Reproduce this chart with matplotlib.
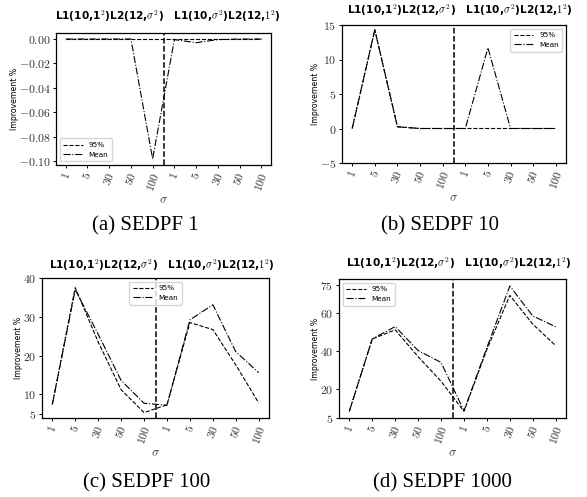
import matplotlib
matplotlib.use('Agg')
import matplotlib.pyplot as plt
from matplotlib.ticker import FixedLocator, FuncFormatter

plt.rcParams['mathtext.fontset'] = 'cm'
plt.rcParams['font.family'] = 'DejaVu Sans'

# sigma values for the two scenarios, side by side
sigma_labels = ['1', '5', '30', '50', '100', '1', '5', '30', '50', '100']

# improvement (%) of the 95% quantile and of the mean, per SEDPF setting
sedpf1_q95 = [0, 0, 0, 0, 0, 0, 0, 0, 0, 0]
sedpf1_mean = [0, 0, 0, 0, -0.098, -0.0005, -0.003, -0.0005, 0, 0]

sedpf10_q95 = [0, 14.3, 0.25, 0, 0, 0, 0, 0, 0, 0]
sedpf10_mean = [0, 14.3, 0.25, 0, 0, 0, 11.7, 0, 0, 0]

sedpf100_q95 = [7.4, 37.5, 23.5, 11.2, 5.3, 7.3, 28.5, 26.7, 17.6, 7.8]
sedpf100_mean = [7.4, 37.0, 25.5, 13.6, 7.7, 7.2, 29.2, 33.1, 21.0, 15.6]

sedpf1000_q95 = [8.5, 46.5, 51.3, 37.2, 24.3, 8.5, 41.0, 69.4, 54.3, 43.0]
sedpf1000_mean = [8.5, 46.5, 53.0, 40.4, 34.2, 8.8, 42.0, 74.3, 58.6, 52.9]

panel_titles = ['(a) SEDPF 1', '(b) SEDPF 10', '(c) SEDPF 100', '(d) SEDPF 1000']
header = (r'L1(10,1$^2$)L2(12,$\sigma^2$)   '
          r'L1(10,$\sigma^2$)L2(12,$1^2$)')

fig = plt.figure(figsize=(5.87, 4.97), dpi=100)
W, H = 587.0, 497.0


def px_axes(x0, y0, x1, y1):
    return fig.add_axes([x0 / W, 1 - y1 / H, (x1 - x0) / W, (y1 - y0) / H])


def draw_panel(ax, q95, mean, yticks, fmt, legend_loc, ylim=None):
    x = list(range(len(sigma_labels)))
    ax.plot(x, q95, 'k--', lw=0.8, label='95%')
    ax.plot(x, mean, 'k-.', lw=0.8, label='Mean')
    ax.axvline(4.5, color='k', ls='--', lw=1.1)
    if ylim is not None:
        ax.set_ylim(*ylim)
    ax.yaxis.set_major_locator(FixedLocator(yticks))
    ax.yaxis.set_major_formatter(FuncFormatter(lambda v, p: '$' + fmt.format(v) + '$'))
    ax.set_xticks(x)
    ax.set_xticklabels(['$' + s + '$' for s in sigma_labels], rotation=70)
    ax.tick_params(labelsize=8.5, labelcolor='0.2', length=2.5, width=0.7, pad=1.5)
    ax.set_xlabel(r'$\sigma$', fontsize=9, labelpad=0, color='0.25')
    ax.set_ylabel('Improvement %', fontsize=5.6, labelpad=0)
    for sp in ax.spines.values():
        sp.set_linewidth(0.9)
    ax.legend(loc=legend_loc, fontsize=5.2, handlelength=2.7, borderpad=0.5,
              labelspacing=0.5)


ax_a = px_axes(56, 33, 271, 165)
draw_panel(ax_a, sedpf1_q95, sedpf1_mean, [0, -0.02, -0.04, -0.06, -0.08, -0.10],
           '{:.2f}', 'lower left')

ax_b = px_axes(342, 25, 566, 163)
draw_panel(ax_b, sedpf10_q95, sedpf10_mean, [-5, 0, 5, 10, 15], '{:.0f}',
           'upper right', ylim=(-5, 15))

ax_c = px_axes(42, 278, 269, 418)
draw_panel(ax_c, sedpf100_q95, sedpf100_mean, [5, 10, 20, 30, 40], '{:.0f}',
           'upper center', ylim=(3.9, 40))

ax_d = px_axes(339, 279, 566, 418)
draw_panel(ax_d, sedpf1000_q95, sedpf1000_mean, [5, 20, 40, 60, 75], '{:.0f}',
           'upper left', ylim=(5, 78))

# headers above each panel and captions underneath
for xc, yc in [(168, 16), (460, 10), (162, 265), (459, 263)]:
    fig.text(xc / W, 1 - yc / H, header, ha='center', va='center',
             fontsize=7.6, fontweight='bold')

for label, (xc, yc) in zip(panel_titles, [(145, 226), (440, 226), (147, 483), (442, 483)]):
    fig.text(xc / W, 1 - yc / H, label, ha='center', va='center',
             fontsize=15, family='Liberation Serif')

fig.savefig('out.png', dpi=100)
